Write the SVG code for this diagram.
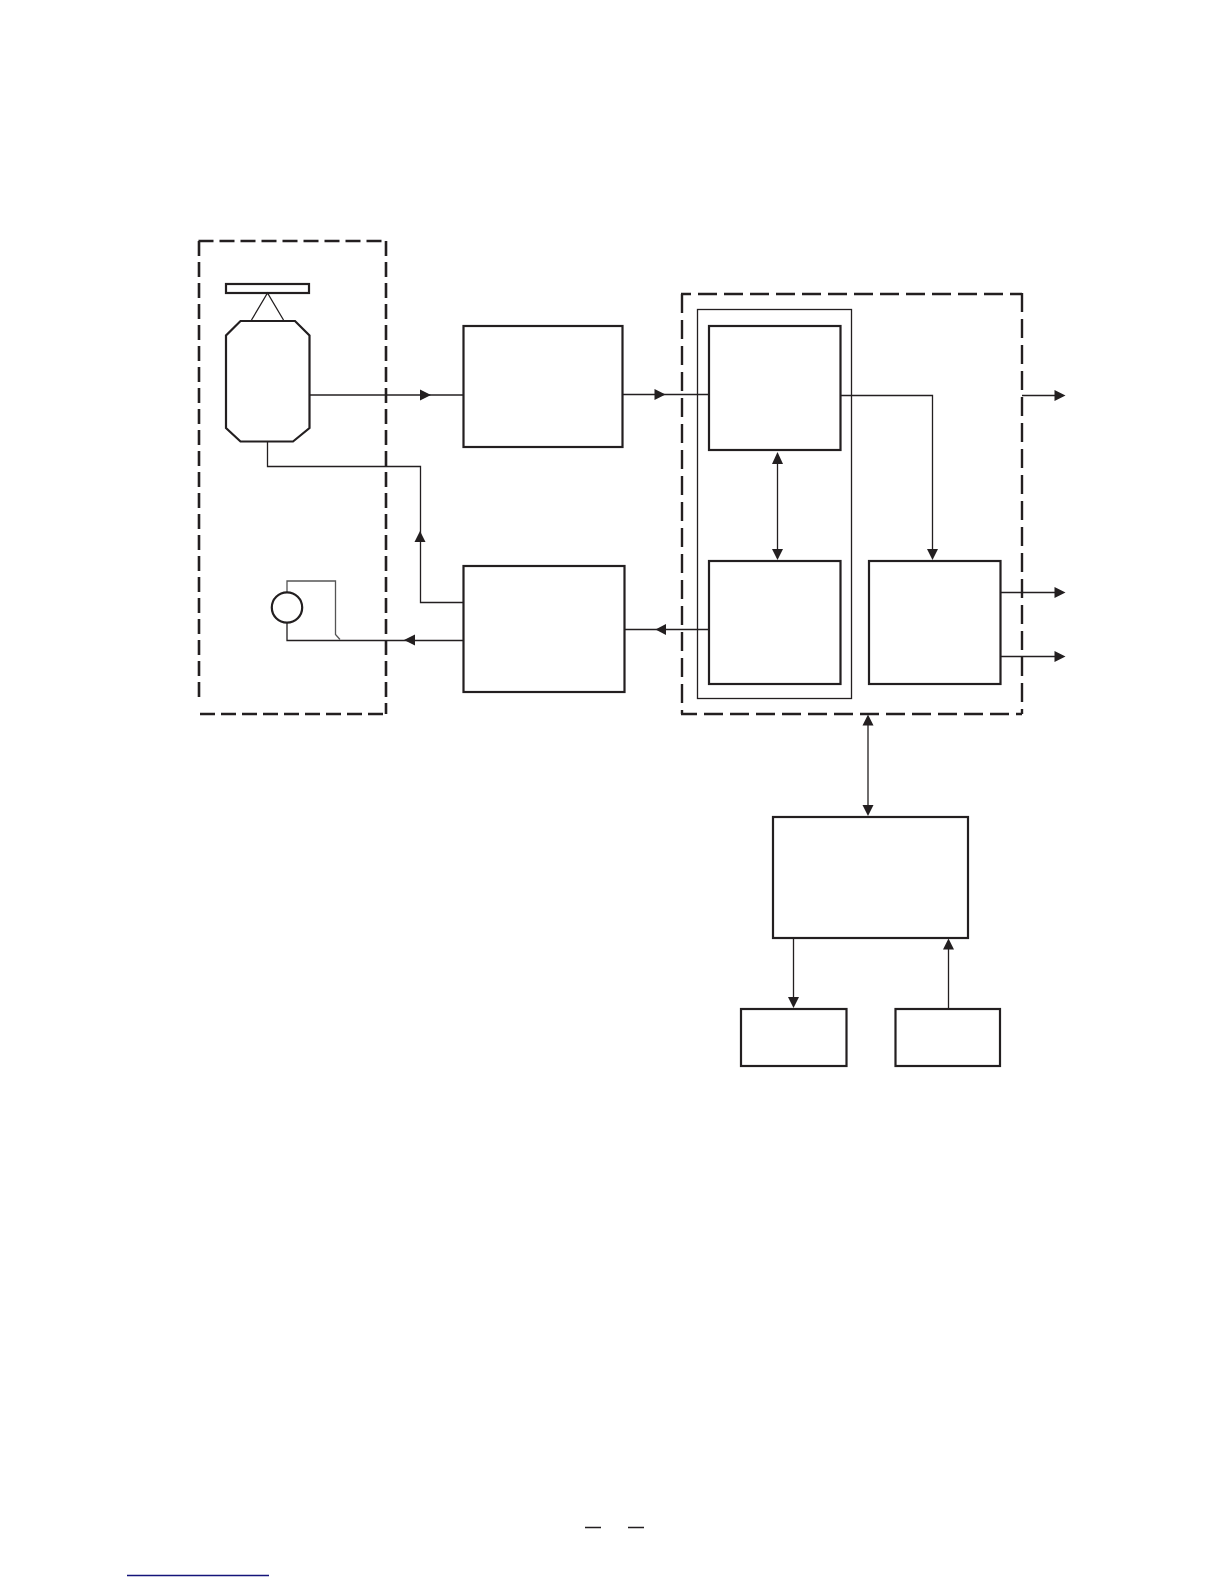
<svg xmlns="http://www.w3.org/2000/svg" width="1224" height="1584" viewBox="0 0 1224 1584">
<style>
.box{fill:#fff;stroke:#231f20;stroke-width:2.2}
.thin{fill:none;stroke:#231f20;stroke-width:1.3}
.dl{fill:none;stroke:#231f20;stroke-width:2.6;stroke-dasharray:15 6}
.dr{fill:none;stroke:#231f20;stroke-width:2.4;stroke-dasharray:19 7}
.line{fill:none;stroke:#231f20;stroke-width:1.3}
.gray{fill:none;stroke:#555;stroke-width:1.3}
.ah{fill:#231f20;stroke:none}
</style>
<rect width="1224" height="1584" fill="#fff"/>
<g id="group-left">
<path class="dl" d="M198.500 241H386"/><path class="dl" d="M199 241V700"/><path class="dl" d="M386 241V714"/><path class="dl" d="M200 714H386"/>
</g>
<g id="group-right">
<path class="dr" stroke-dashoffset="9" d="M681 294H1022"/><path class="dr" d="M682 294V714"/><path class="dr" d="M1022 293V714"/><path class="dr" stroke-dashoffset="3" d="M681 714H1022"/>
</g>
<g id="group-inner"><rect class="thin" x="697.500" y="309.500" width="154" height="389"/></g>
<g id="connectors">
<path class="line" d="M309 395H463"/>
<path class="ah" d="M420 389.500L431 395L420 400.500Z"/>
<path class="line" d="M267.500 442V466.500H420.500V602.500H463"/>
<path class="ah" d="M420 531L425.500 542H414.500Z"/>
<path class="line" d="M463 640.500H287V623"/>
<path class="ah" d="M404 640L415 634.500V645.500Z"/>
<path class="gray" d="M287 592V581H335.500V634.500L340 639.500"/>
<path class="line" d="M622 394.500H709"/>
<path class="ah" d="M654.500 389L665.500 394.500L654.500 400Z"/>
<path class="line" d="M624 629.500H709"/>
<path class="ah" d="M655.500 629.500L666 624V635Z"/>
<path class="line" d="M777.500 455V558"/>
<path class="ah" d="M777.500 452L783 464H772Z"/>
<path class="ah" d="M777.500 560L772 549H783Z"/>
<path class="line" d="M840 395.500H932.500V550"/>
<path class="ah" d="M932.500 560L927 549H938Z"/>
<path class="line" d="M1022 395.500H1056"/>
<path class="ah" d="M1065.500 395.500L1054.500 390V401Z"/>
<path class="line" d="M1000 592.500H1056"/>
<path class="ah" d="M1065.500 592.500L1054.500 587V598Z"/>
<path class="line" d="M1000 656.500H1056"/>
<path class="ah" d="M1065.500 656.500L1054.500 651V662Z"/>
<path class="line" d="M868 720V810"/>
<path class="ah" d="M868 714.500L873.500 725.500H862.500Z"/>
<path class="ah" d="M868 816L862.500 805H873.500Z"/>
<path class="line" d="M793.500 938V1000"/>
<path class="ah" d="M793.500 1008L788 997H799Z"/>
<path class="line" d="M948.500 1008V945"/>
<path class="ah" d="M948.500 938.500L954 949.500H943Z"/>
</g>
<g id="sensor-plate"><rect class="box" x="226" y="284" width="83" height="9"/></g>
<g id="sensor-mount"><path class="line" d="M251.500 320L267.500 293L283.500 320"/></g>
<g id="sensor-body"><path class="box" d="M240.500 321H295L309.500 335.500V428L293 441.500H240.500L226 428V335.500Z"/></g>
<g id="motor"><circle class="box" cx="287" cy="607.500" r="15.200"/></g>
<g id="box-upper"><rect class="box" x="463.500" y="326" width="159" height="121"/></g>
<g id="box-lower"><rect class="box" x="463.500" y="566" width="161" height="126"/></g>
<g id="box-a"><rect class="box" x="709" y="326" width="131.500" height="124"/></g>
<g id="box-b"><rect class="box" x="709" y="561" width="131.500" height="123"/></g>
<g id="box-c"><rect class="box" x="869" y="561" width="131.500" height="123"/></g>
<g id="box-d"><rect class="box" x="773" y="817" width="195" height="121"/></g>
<g id="box-e"><rect class="box" x="741" y="1009" width="105.500" height="57"/></g>
<g id="box-f"><rect class="box" x="895.500" y="1009" width="104.500" height="57"/></g>
<g id="footer">
<path fill="none" stroke="#231f20" stroke-width="1.400" d="M585 1527.500H601M628 1527.500H644"/>
<path fill="none" stroke="#14147a" stroke-width="1.300" d="M127 1575.500H269"/>
</g>
</svg>
